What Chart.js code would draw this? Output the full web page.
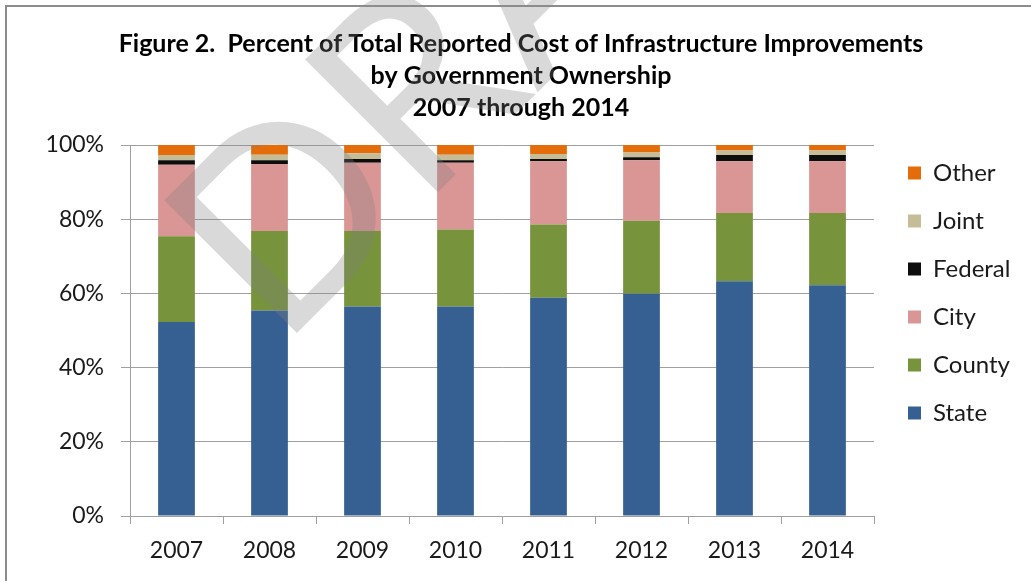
<!DOCTYPE html>
<html><head><meta charset="utf-8">
<script src="https://cdn.jsdelivr.net/npm/chart.js@4.4.1/dist/chart.umd.min.js"></script>
<style>
html,body{margin:0;padding:0;background:#fff;overflow:hidden;}
#wrap{position:absolute;left:0;top:0;width:1031px;height:581px;}
#frame{position:absolute;left:5px;top:5px;width:1100px;height:700px;border-left:2px solid #8c8c8c;border-top:2px solid #8c8c8c;pointer-events:none;}
</style></head><body>
<div id="wrap"><canvas id="c" width="1031" height="581"></canvas></div>
<div id="frame"></div>
<script>
const years = ['2007','2008','2009','2010','2011','2012','2013','2014'];
const stateVals   = [52.3, 55.4, 56.5, 56.5, 58.8, 59.9, 63.3, 62.2];
const countyVals  = [23.1, 21.4, 20.3, 20.7, 19.8, 19.7, 18.4, 19.5];
const cityVals    = [19.3, 18.1, 18.4, 18.0, 17.0, 16.3, 13.9, 13.9];
const federalVals = [1.2, 1.0, 1.0, 0.7, 0.6, 0.8, 1.7, 1.7];
const jointVals   = [1.4, 1.5, 1.6, 1.5, 1.4, 1.3, 1.2, 1.2];
const otherVals   = [2.7, 2.6, 2.2, 2.6, 2.4, 2.0, 1.5, 1.5];
const yTicks = [0, 20, 40, 60, 80, 100];
const titleLines = ['Figure 2.  Percent of Total Reported Cost of Infrastructure Improvements', 'by Government Ownership', '2007 through 2014'];
const watermarkText = 'DRAFT';

const FONT = 'Lato';
const GRID = '#a0a0a0';

const layoutTweak = {
  id: 'layoutTweak',
  beforeLayout(chart) {
    const lg = chart.legend;
    if (lg && !lg._patched) {
      const f = lg.fit;
      lg.fit = function () { f.call(this); this.width = 157; };
      lg._patched = true;
    }
  },
  afterLayout(chart) {
    const lg = chart.legend;
    if (lg) { lg.left += 10; lg.right += 10; lg.top += 137; lg.bottom += 137; }
  }
};

const watermark = {
  id: 'watermark',
  afterDraw(chart) {
    const ctx = chart.ctx;
    ctx.save();
    ctx.translate(280, 350);
    ctx.rotate(-Math.PI / 4);
    ctx.font = '400 262px ' + FONT;
    ctx.fillStyle = 'rgba(128,128,128,0.3)';
    ctx.textBaseline = 'alphabetic';
    ctx.textAlign = 'left';
    ctx.fillText(watermarkText, 0, 0);
    ctx.restore();
  }
};

new Chart(document.getElementById('c'), {
  type: 'bar',
  data: {
    labels: years,
    datasets: [
      { label: 'State',   data: stateVals,   backgroundColor: '#376092' },
      { label: 'County',  data: countyVals,  backgroundColor: '#77933C' },
      { label: 'City',    data: cityVals,    backgroundColor: '#D99694' },
      { label: 'Federal', data: federalVals, backgroundColor: '#0D0D0D' },
      { label: 'Joint',   data: jointVals,   backgroundColor: '#C4BD97' },
      { label: 'Other',   data: otherVals,   backgroundColor: '#E46C0A' }
    ]
  },
  options: {
    responsive: false,
    animation: false,
    devicePixelRatio: 1,
    datasets: { bar: { barPercentage: 0.395, categoryPercentage: 1.0, borderWidth: 0 } },
    layout: { padding: { left: 11, right: 0, top: 0, bottom: 0 } },
    plugins: {
      title: {
        display: true,
        text: titleLines,
        color: '#000',
        font: { family: FONT, size: 25, weight: 'bold', lineHeight: '32px' },
        padding: { top: 28, bottom: 21 }
      },
      legend: {
        display: true,
        position: 'right',
        align: 'start',
        reverse: true,
        labels: {
          boxWidth: 13, boxHeight: 13,
          padding: 24,
          color: '#1a1a1a',
          font: { family: FONT, size: 24 }
        }
      },
      tooltip: { enabled: false }
    },
    scales: {
      x: {
        stacked: true,
        grid: { display: true, drawOnChartArea: false, drawTicks: true, tickLength: 8, color: GRID, offset: true },
        border: { display: true, color: GRID, width: 1 },
        ticks: { color: '#1a1a1a', font: { family: FONT, size: 23 }, padding: 13, maxRotation: 0 },
        afterFit(s) { s.height = 65; }
      },
      y: {
        stacked: true,
        min: 0, max: 100,
        afterBuildTicks(s) { s.ticks = yTicks.map(v => ({ value: v })); },
        grid: { color: GRID, tickLength: 9, drawTicks: true },
        border: { display: true, color: GRID, width: 1 },
        ticks: { color: '#1a1a1a', font: { family: FONT, size: 23 }, padding: 17, callback: v => v + '%' },
        afterFit(s) { s.width = 119; }
      }
    }
  },
  plugins: [layoutTweak, watermark]
});
</script>
</body></html>
